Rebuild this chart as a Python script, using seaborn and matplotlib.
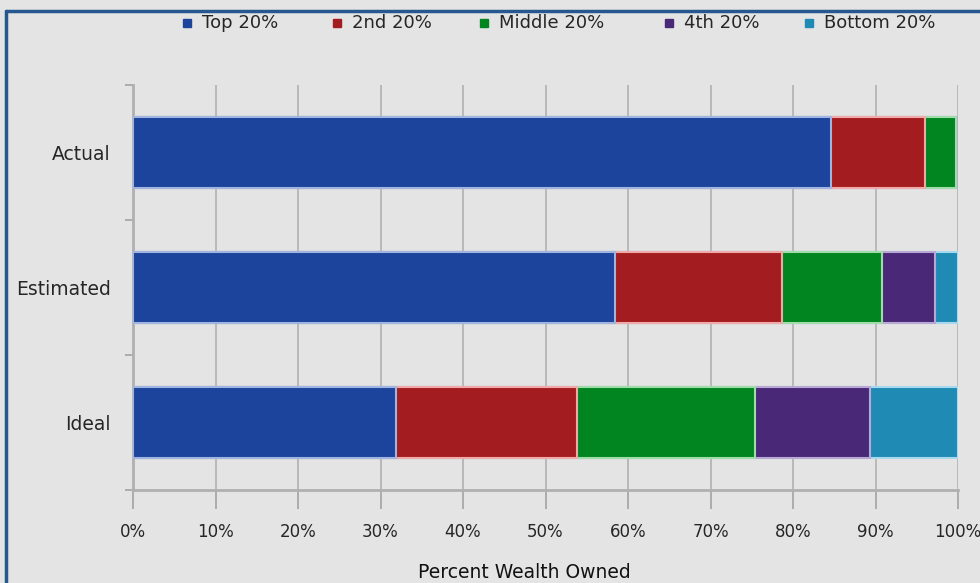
import matplotlib
matplotlib.use("Agg")
import matplotlib.pyplot as plt
import seaborn as sns
import pandas as pd
import numpy as np
from matplotlib.lines import Line2D
from matplotlib.ticker import FixedLocator, PercentFormatter

# ---- data ----
categories = ["Actual", "Estimated", "Ideal"]
series = ["Top 20%", "2nd 20%", "Middle 20%", "4th 20%", "Bottom 20%"]
top20 = [84.6, 58.4, 31.9]
second20 = [11.4, 20.3, 21.9]
middle20 = [3.7, 12.1, 21.6]
fourth20 = [0.2, 6.4, 13.9]
bottom20 = [0.1, 2.8, 10.7]
x_ticks = [0, 10, 20, 30, 40, 50, 60, 70, 80, 90, 100]

colors = ["#1d449c", "#a31c1f", "#008521", "#4a2878", "#1f8bb5"]
edge_colors = ["#9fb4e0", "#f0a8a8", "#9fdca8", "#b8a8d4", "#a8d8ee"]

sns.set_theme(style="white")
plt.rcParams["font.family"] = ["DejaVu Sans"]

W, H = 980, 583
bg = "#e4e4e4"
txt = "#262626"
fig = plt.figure(figsize=(W / 100, H / 100), dpi=100, facecolor=bg)
ax = fig.add_axes([133 / W, 1 - 490 / H, (958 - 133) / W, (490 - 85) / H])
ax.set_facecolor(bg)

values = np.array([top20, second20, middle20, fourth20, bottom20])
cum = np.cumsum(values, axis=0)

# draw cumulative bars from largest to smallest so each segment shows
for i in range(len(series) - 1, -1, -1):
    df = pd.DataFrame({"category": categories, "value": cum[i]})
    sns.barplot(data=df, x="value", y="category", orient="h", color=colors[i],
                saturation=1, width=0.52, edgecolor=edge_colors[i], linewidth=1.5,
                ax=ax, zorder=3)

ax.set_xlim(0, 100)
ax.set_ylim(2.5, -0.5)
ax.xaxis.set_major_locator(FixedLocator(x_ticks))
ax.xaxis.set_major_formatter(PercentFormatter(decimals=0))
ax.grid(axis="x", color="#b5b5b5", linewidth=1.3, zorder=0)
ax.set_axisbelow(True)
ax.set_xlabel("")
ax.set_ylabel("")

for s in ["top", "right"]:
    ax.spines[s].set_visible(False)
for s in ["left", "bottom"]:
    ax.spines[s].set_color("#b0b0b0")
    ax.spines[s].set_linewidth(2)

ax.tick_params(axis="x", which="major", length=14, width=1.3, color="#a8a8a8",
               labelsize=12, labelcolor=txt, pad=10, bottom=True)
ax.tick_params(axis="y", which="major", length=0, labelsize=13.5, labelcolor=txt, pad=16)
ax.yaxis.set_minor_locator(FixedLocator([-0.5, 0.5, 1.5, 2.5]))
ax.tick_params(axis="y", which="minor", length=6, width=1.3, color="#a8a8a8", left=True)

# legend (manually placed entries across the top)
legend_x = [187, 337, 484, 669, 809]
legend_y = 23
for lx, name, c in zip(legend_x, series, colors):
    fig.add_artist(Line2D([lx / W], [1 - legend_y / H], transform=fig.transFigure,
                          marker="s", markersize=6, linestyle="",
                          markerfacecolor=c, markeredgecolor=c))
    fig.text((lx + 15) / W, 1 - legend_y / H, name, ha="left", va="center",
             fontsize=13, color=txt)

fig.text(524 / W, 1 / H, "Percent Wealth Owned", ha="center", va="bottom",
         fontsize=13.5, color="#111111")

# frame border lines (top and left)
fig.add_artist(Line2D([6 / W, 6 / W], [0, 1 - 11 / H], transform=fig.transFigure,
                      color="#26578f", linewidth=2.5))
fig.add_artist(Line2D([6 / W, 1], [1 - 11 / H, 1 - 11 / H], transform=fig.transFigure,
                      color="#26578f", linewidth=2.5))

fig.savefig("out.png", dpi=100, facecolor=bg)
